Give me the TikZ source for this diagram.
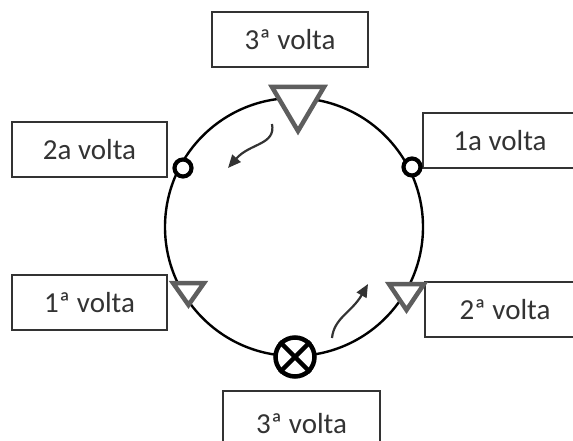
\documentclass[tikz,border=0pt]{standalone}
\usepackage{fontspec}
\setmainfont{Carlito}
\usetikzlibrary{arrows.meta}
\definecolor{txt}{HTML}{333333}
\definecolor{mark}{HTML}{5E5E5E}
\begin{document}
\begin{tikzpicture}[x=1pt,y=-1pt,
  box/.style={draw=txt,line width=1.6pt,fill=white,text=txt,font=\fontsize{29}{34}\selectfont,inner sep=0pt},
  tri/.style={draw=mark,line width=4.5pt,fill=white,line join=miter},
  ring/.style={draw=black,line width=4.2pt,fill=white},
  curarrow/.style={draw=txt,line width=2.2pt,-{Triangle[width=11pt,length=13pt]}}]
\useasboundingbox (0,0) rectangle (573,441);
\clip (0,0) rectangle (573,441);
% main circle
\draw[line width=2.4pt] (294,227) circle[radius=129];
% boxes
\node[box,minimum width=156pt,minimum height=55pt] (t3) at (290,39.5) {3ª volta};
\node[box,minimum width=155pt,minimum height=55pt] (l2) at (89.5,149.5) {2a volta};
\node[box,minimum width=154pt,minimum height=55pt] (r1) at (500,140.5) {1a volta};
\node[box,minimum width=155pt,minimum height=55pt] (l1) at (89.5,302.5) {1ª volta};
\node[box,minimum width=160pt,minimum height=55pt] (r2) at (505,309.5) {2ª volta};
\node[box,minimum width=157pt,minimum height=66pt,anchor=north] (b3) at (301.5,390) {3ª volta};
% markers
\draw[tri] (272,87) -- (324,87) -- (298,131) -- cycle;
\draw[tri] (173,283) -- (204,283) -- (188.5,305) -- cycle;
\draw[tri] (389,284) -- (424,284) -- (406.5,310) -- cycle;
\node[ring,circle,minimum size=17pt,inner sep=0pt] (cl) at (183,168) {};
\node[ring,circle,minimum size=17pt,inner sep=0pt] (cr) at (412,167) {};
\node[draw=black,line width=4.5pt,fill=white,circle,minimum size=39pt,inner sep=0pt] (x) at (295,357) {};
\draw[line width=4.5pt] (x.north east) -- (x.south west) (x.north west) -- (x.south east);
% curved arrows
\coordinate (a1s) at (272,124);
\coordinate (a1e) at (228,168);
\coordinate (a2s) at (332,338);
\coordinate (a2e) at (368,284);
\draw[curarrow] (a1s) .. controls (276,145) and (250,143) .. (a1e);
\draw[curarrow] (a2s) .. controls (334,318) and (352,312) .. (a2e);
\end{tikzpicture}
\end{document}
